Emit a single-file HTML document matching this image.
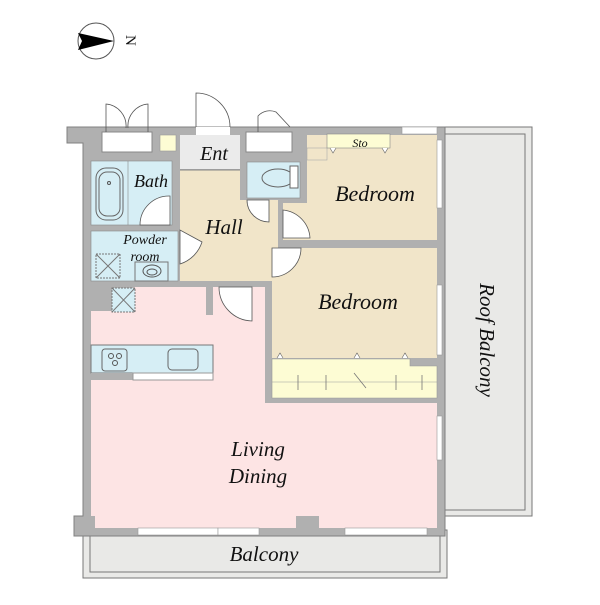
<!DOCTYPE html>
<html><head><meta charset="utf-8"><style>
body{margin:0;background:#fff}
svg text{font-family:"Liberation Serif",serif;font-style:italic;fill:#111}
</style></head><body>
<svg width="600" height="600" viewBox="0 0 600 600" xmlns="http://www.w3.org/2000/svg">
<!-- compass -->
<circle cx="96" cy="41" r="18" fill="#fff" stroke="#555" stroke-width="1"/>
<path d="M78 33 L114 41 L78 50 L82 41 Z" fill="#000"/>
<text x="120" y="41" font-size="15" transform="rotate(90 126 41)" style="font-style:normal">N</text>

<!-- roof balcony -->
<rect x="443" y="127" width="89" height="389" fill="#e9e9e7" stroke="#777" stroke-width="1"/>
<rect x="444" y="134" width="81" height="376" fill="#e9e9e7" stroke="#777" stroke-width="1"/>
<text transform="translate(480 340) rotate(90)" font-size="21" text-anchor="middle">Roof Balcony</text>
<!-- balcony -->
<rect x="83" y="530" width="364" height="48" fill="#e9e9e7" stroke="#777" stroke-width="1"/>
<rect x="90" y="530" width="350" height="42" fill="#e9e9e7" stroke="#777" stroke-width="1"/>
<text x="264" y="561" font-size="21" text-anchor="middle">Balcony</text>

<!-- envelope -->
<path d="M67 127 L445 127 L445 536 L74 536 L74 516 L83 516 L83 143 L67 143 Z" fill="#b0b0b0" stroke="#808080" stroke-width="1"/>

<!-- living -->
<path d="M91 287 L206 287 L206 315 L213 315 L213 287 L265 287 L265 403 L437 403 L437 528 L319 528 L319 516 L296 516 L296 528 L95 528 L95 516 L91 516 Z" fill="#fde4e4"/>
<path d="M91 287 L133 287 L133 311 L91 311 Z" fill="#b0b0b0"/>
<rect x="112" y="288" width="23" height="24" fill="#d6eef5" stroke="#777" stroke-dasharray="2,1"/>
<path d="M112 288 L135 312 M135 288 L112 312" stroke="#777"/>
<!-- kitchen -->
<rect x="91" y="345" width="122" height="28" fill="#d6eef5" stroke="#777"/>
<rect x="91" y="373" width="42" height="7" fill="#b0b0b0"/>
<rect x="133" y="373" width="80" height="7" fill="#fff" stroke="#999"/>
<rect x="102" y="349" width="25" height="22" rx="3" fill="none" stroke="#666"/>
<circle cx="111" cy="356" r="2.5" fill="none" stroke="#555"/><circle cx="119" cy="356" r="2.5" fill="none" stroke="#555"/><circle cx="115" cy="363" r="2.5" fill="none" stroke="#555"/>
<rect x="168" y="349" width="30" height="21" rx="4" fill="none" stroke="#666"/>
<text x="258" y="456" font-size="21" text-anchor="middle">Living</text>
<text x="258" y="483" font-size="21" text-anchor="middle">Dining</text>
<!-- living door -->
<path d="M219 287 L252 287 L252 321 A34 34 0 0 1 219 287 Z" fill="#fff" stroke="#555" stroke-width="0.8"/>

<!-- bath -->
<rect x="91" y="161" width="81" height="64" fill="#d6eef5" stroke="#888" stroke-width="0.6"/>
<line x1="128" y1="161" x2="128" y2="225" stroke="#888" stroke-width="0.6"/>
<rect x="96" y="168" width="27" height="52" rx="10" fill="none" stroke="#666"/>
<rect x="99" y="172" width="21" height="44" rx="8" fill="none" stroke="#666"/>
<circle cx="109" cy="183" r="1.5" fill="none" stroke="#555"/>
<text x="151" y="187" font-size="18" text-anchor="middle">Bath</text>
<path d="M140 225 L170 225 L170 196 A29 29 0 0 0 140 225 Z" fill="#fff" stroke="#555" stroke-width="0.8"/>
<!-- powder -->
<rect x="91" y="231" width="87" height="50" fill="#d6eef5" stroke="#888" stroke-width="0.6"/>
<text x="145" y="244" font-size="14" text-anchor="middle">Powder</text>
<text x="145" y="261" font-size="14" text-anchor="middle">room</text>
<rect x="96" y="254" width="24" height="24" fill="none" stroke="#777" stroke-dasharray="2,1"/>
<path d="M96 254 L120 278 M120 254 L96 278" stroke="#777"/>
<rect x="135" y="262" width="33" height="19" fill="none" stroke="#777"/>
<ellipse cx="152" cy="271" rx="9" ry="6" fill="none" stroke="#555"/><ellipse cx="152" cy="272" rx="5" ry="3" fill="none" stroke="#555"/>

<!-- hall -->
<path d="M180 170 L240 170 L240 200 L278 200 L278 281 L180 281 Z" fill="#f1e5c9"/>
<text x="224" y="234" font-size="21" text-anchor="middle">Hall</text>
<path d="M180 230 L180 264 A34 34 0 0 0 202 242 Z" fill="#fff" stroke="#555" stroke-width="0.8"/>
<path d="M247 200 L269 200 L269 222 A22 22 0 0 1 247 200 Z" fill="#fff" stroke="#555" stroke-width="0.8"/>
<!-- ent -->
<rect x="180" y="135" width="60" height="34" fill="#ebebeb"/>
<line x1="180" y1="170" x2="240" y2="170" stroke="#888"/>
<text x="214" y="160" font-size="20" text-anchor="middle">Ent</text>
<rect x="160" y="135" width="16" height="16" fill="#fdfcd4" stroke="#999" stroke-width="0.6"/>
<!-- top doors -->
<rect x="102" y="132" width="50" height="20" fill="#fff" stroke="#888"/>
<path d="M106 132 L106 104 A22 22 0 0 1 126 128 M148 132 L148 104 A22 22 0 0 0 128 128" fill="none" stroke="#555" stroke-width="0.8"/>
<rect x="196" y="127" width="34" height="8" fill="#fff"/>
<path d="M196 127 L196 93 A34 34 0 0 1 230 127" fill="none" stroke="#555" stroke-width="0.8"/>
<rect x="246" y="132" width="46" height="20" fill="#fff" stroke="#888"/>
<path d="M258 132 L258 116 A16 16 0 0 1 276 112 L290 127" fill="none" stroke="#555" stroke-width="0.8"/>
<!-- toilet -->
<rect x="247" y="162" width="53" height="36" fill="#d6eef5" stroke="#888" stroke-width="0.6"/>
<ellipse cx="278" cy="178" rx="16" ry="9" fill="none" stroke="#666"/>
<rect x="290" y="166" width="8" height="22" fill="#fff" stroke="#666"/>

<!-- bedroom1 -->
<path d="M307 135 L437 135 L437 240 L283 240 L283 203 L307 203 Z" fill="#f1e5c9"/>
<rect x="307" y="148" width="20" height="12" fill="#f1e5c9" stroke="#aaa" stroke-width="0.6"/>
<rect x="327" y="134" width="63" height="14" fill="#fdfcd4" stroke="#888" stroke-width="0.6"/>
<text x="360" y="147" font-size="12" text-anchor="middle">Sto</text>
<path d="M330 148 L333 153 L336 148 M382 148 L385 153 L388 148" fill="#fff" stroke="#666" stroke-width="0.6"/>
<text x="375" y="201" font-size="22" text-anchor="middle">Bedroom</text>
<path d="M283 210 A30 30 0 0 1 310 238 L283 238 Z" fill="#fff" stroke="#555" stroke-width="0.8"/>
<!-- bedroom2 -->
<rect x="272" y="248" width="165" height="110" fill="#f1e5c9"/>
<text x="358" y="309" font-size="22" text-anchor="middle">Bedroom</text>
<path d="M272 248 L301 248 A29 29 0 0 1 272 277 Z" fill="#fff" stroke="#555" stroke-width="0.8"/>
<path d="M277 358 L280 353 L283 358 M354 358 L357 353 L360 358 M402 358 L405 353 L408 358" fill="#fff" stroke="#666" stroke-width="0.6"/>
<!-- closet -->
<path d="M272 359 L410 359 L410 366 L437 366 L437 398 L272 398 Z" fill="#fdfcd4" stroke="#999" stroke-width="0.6"/>
<line x1="272" y1="382" x2="437" y2="382" stroke="#999" stroke-width="0.6"/>
<path d="M298 375 L298 390 M326 375 L326 390 M354 373 L366 388 M396 375 L396 390 M422 375 L422 390" stroke="#777" stroke-width="0.8"/>

<!-- windows -->
<rect x="402" y="127" width="35" height="7" fill="#fff" stroke="#999" stroke-width="0.6"/>
<rect x="437" y="140" width="5" height="68" fill="#fff" stroke="#999" stroke-width="0.6"/>
<rect x="437" y="285" width="5" height="70" fill="#fff" stroke="#999" stroke-width="0.6"/>
<rect x="437" y="416" width="5" height="44" fill="#fff" stroke="#999" stroke-width="0.6"/>
<rect x="138" y="528" width="80" height="7" fill="#fff" stroke="#999" stroke-width="0.6"/>
<rect x="218" y="528" width="41" height="7" fill="#fff" stroke="#999" stroke-width="0.6"/>
<rect x="345" y="528" width="82" height="7" fill="#fff" stroke="#999" stroke-width="0.6"/>
</svg>
</body></html>
